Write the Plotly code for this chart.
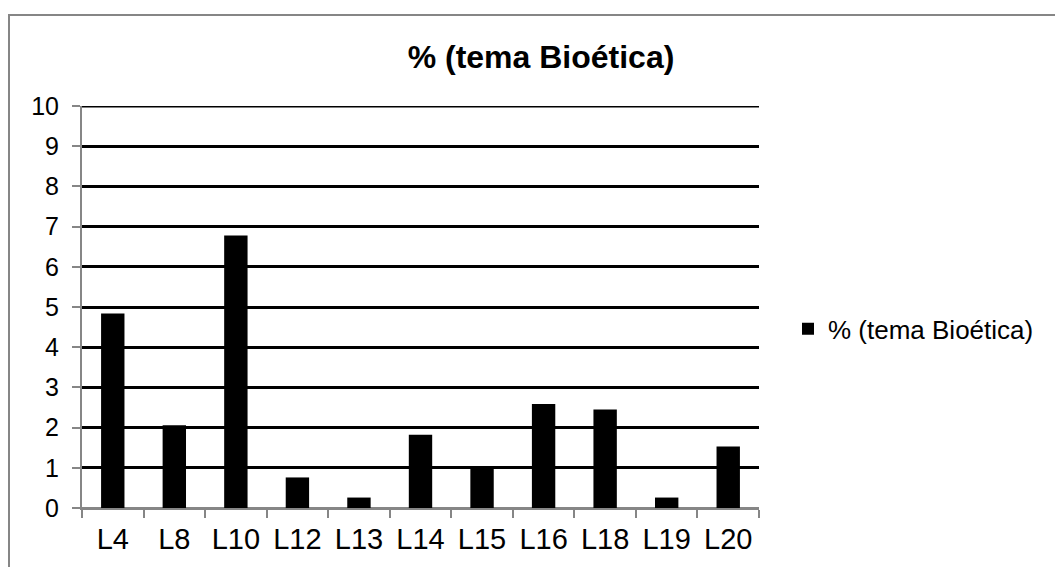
import plotly.graph_objects as go

categories = ["L4", "L8", "L10", "L12", "L13", "L14", "L15", "L16", "L18", "L19", "L20"]
values = [4.84, 2.06, 6.78, 0.76, 0.26, 1.82, 0.97, 2.59, 2.45, 0.26, 1.53]
series_name = "% (tema Bioética)"
y_ticks = list(range(0, 11))

# page body has an 8px margin; work in page pixels and convert
OFF = 8
W, H = 1063 - OFF, 567 - OFF
left_px, right_px, top_px, bottom_px = 82, 759, 106, 508.3
ML = left_px - OFF
MR = W - (right_px - OFF)
MT = top_px - OFF
MB = H - (bottom_px - OFF)
pw = W - ML - MR
ph = H - MT - MB


def px_x(p):
    return (p - OFF - ML) / pw


def px_y(p):
    return ((bottom_px - OFF) - (p - OFF)) / ph


fig = go.Figure()
fig.add_trace(go.Bar(
    x=categories, y=values, name=series_name,
    marker=dict(color="black", line=dict(width=0)),
))

font = "Liberation Sans, Arial, sans-serif"
fig.update_layout(
    width=W, height=H,
    margin=dict(l=ML, r=MR, t=MT, b=MB),
    paper_bgcolor="white", plot_bgcolor="white",
    bargap=0.62,
    showlegend=True,
    font=dict(family=font, color="black"),
    title=dict(
        text="<b>% (tema Bioética)</b>",
        font=dict(family=font, size=32, color="black"),
        x=px_x(541), xref="paper", xanchor="center",
        y=1 - (57 - OFF) / H, yref="container", yanchor="middle",
    ),
    legend=dict(
        x=px_x(788), xanchor="left",
        y=px_y(329), yanchor="middle",
        font=dict(family=font, size=26, color="black"),
        bgcolor="rgba(0,0,0,0)",
    ),
    xaxis=dict(
        showline=True, linecolor="#868686", linewidth=2,
        ticks="outside", tickson="boundaries", ticklen=8, tickcolor="#868686", tickwidth=2,
        tickfont=dict(family=font, size=29, color="black"),
        ticklabelstandoff=4,
        showgrid=False,
    ),
    yaxis=dict(
        range=[0, 10], tickvals=y_ticks,
        showline=True, linecolor="#868686", linewidth=2,
        ticks="outside", ticklen=8, tickcolor="#868686", tickwidth=2,
        tickfont=dict(family=font, size=25, color="black"),
        ticklabelstandoff=8,
        showgrid=True, gridcolor="black", gridwidth=3,
        zeroline=True, zerolinecolor="#868686", zerolinewidth=2,
    ),
    shapes=[
        dict(
            type="rect", xref="paper", yref="paper",
            x0=px_x(OFF + 1), x1=1.6,
            y0=-0.5, y1=px_y(15),
            line=dict(color="#868686", width=2), fillcolor="rgba(0,0,0,0)", layer="below",
        ),
        dict(
            type="line", xref="paper", yref="y",
            x0=0, x1=1, y0=10, y1=10,
            line=dict(color="black", width=3), layer="below",
        ),
    ],
)

fig.write_html("out.html")
